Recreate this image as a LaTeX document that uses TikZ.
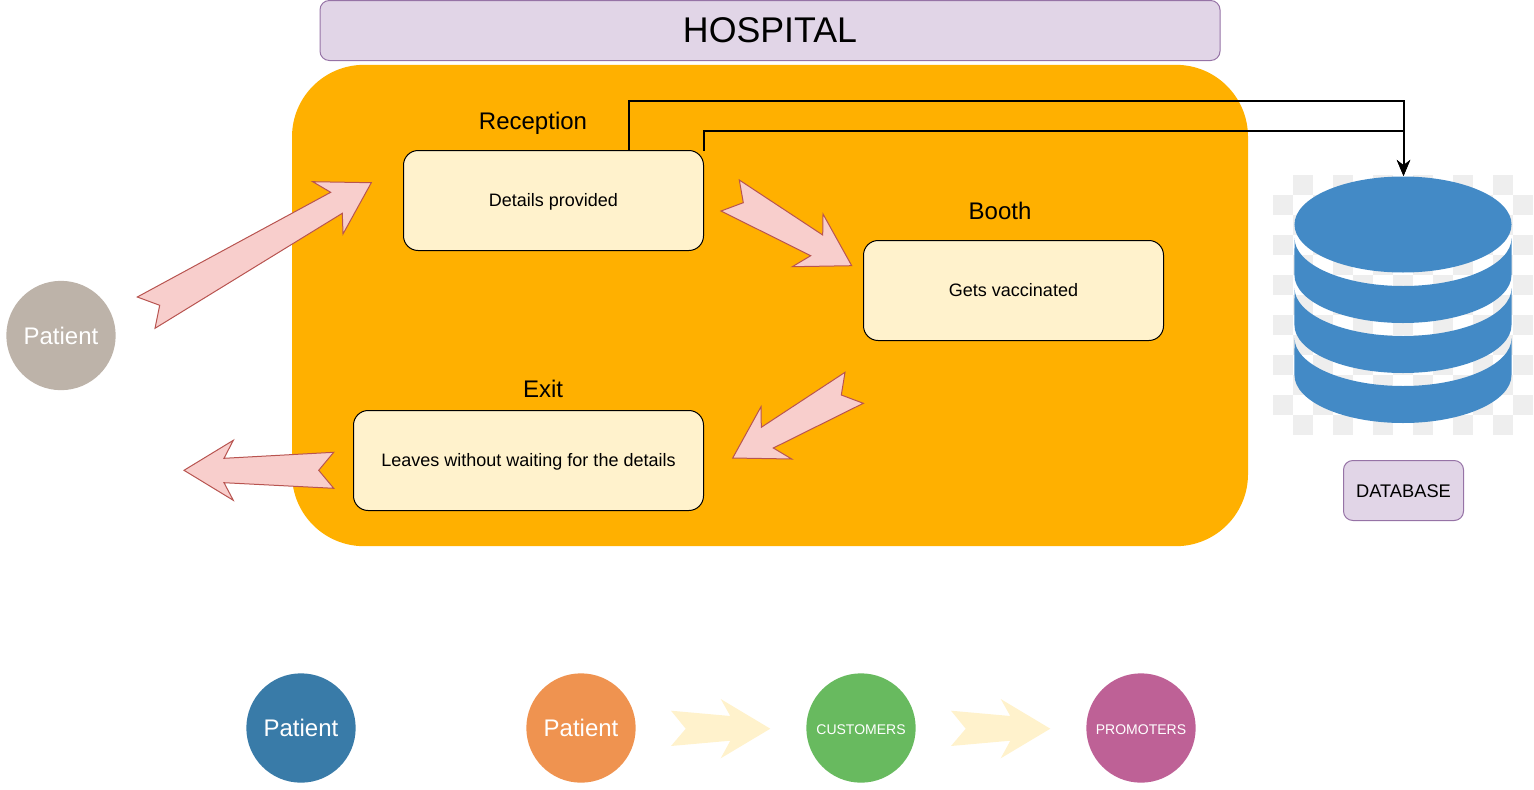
\documentclass[tikz,border=0pt]{standalone}
\usepackage{fontspec}
\setmainfont{Liberation Sans}
\usetikzlibrary{arrows.meta,calc}
\definecolor{hospitalorange}{HTML}{FFB000}
\definecolor{lilacfill}{HTML}{E1D5E7}
\definecolor{lilacline}{HTML}{9673A6}
\definecolor{creamfill}{HTML}{FFF2CC}
\definecolor{pinkfill}{HTML}{F8CECC}
\definecolor{pinkline}{HTML}{B85450}
\definecolor{dbblue}{HTML}{438AC6}
\definecolor{checkgray}{HTML}{EEEEEE}
\definecolor{patientgray}{HTML}{BDB3A9}
\definecolor{patientblue}{HTML}{397BA8}
\definecolor{patientorange}{HTML}{EF9350}
\definecolor{customergreen}{HTML}{68BA5F}
\definecolor{promoterpink}{HTML}{BE6196}

\begin{document}
\begin{tikzpicture}[x=0.75pt, y=-0.75pt, >={Stealth[length=12pt,width=10pt]}]
    \tikzstyle{titlebox} = [draw=lilacline, fill=lilacfill, line width=0.75pt, rounded corners=7pt, inner sep=0pt, outer sep=0pt]
    \tikzstyle{stepbox}  = [draw=black, fill=creamfill, line width=0.75pt, rounded corners=11pt, minimum height=75pt, inner sep=0pt, outer sep=0pt, text height=11pt, text depth=2.5pt, font=\fontsize{13.5}{16}\selectfont]
    \tikzstyle{caption}  = [inner sep=0pt, text height=15pt, text depth=3pt, font=\fontsize{18}{20}\selectfont]
    \tikzstyle{person}   = [circle, minimum size=82pt, inner sep=0pt, text=white, font=\fontsize{18}{20}\selectfont]
    \tikzstyle{role}     = [person, text height=10pt, font=\fontsize{10.5}{13}\selectfont]
    \tikzstyle{bigarrow} = [draw=pinkline, fill=pinkfill, line width=0.75pt, line join=miter]
    \tikzstyle{softarrow} = [fill=creamfill]
    \tikzstyle{link}     = [line width=1.5pt, ->]
    \tikzstyle{dbpart}   = [fill=dbblue]

    \useasboundingbox (0,0) rectangle (1534,789);

    \node [titlebox, minimum width=675pt, minimum height=45pt, font=\fontsize{26.8}{30}\selectfont] (hospital) at (770,30.5) {HOSPITAL};
    \node [fill=hospitalorange, rounded corners=54pt, minimum width=717pt, minimum height=361pt, inner sep=0pt] (ward) at (770,305.5) {};

    \node [stepbox, minimum width=225pt] (details) at (553.5,200.5) {Details provided};
    \node [stepbox, minimum width=225pt] (vaccinated) at (1013.5,290.5) {Gets vaccinated};
    \node [stepbox, minimum width=262.5pt] (leaves) at (528.5,460.5) {Leaves without waiting for the details};

    \node [caption] (reception) at (533,121) {Reception};
    \node [caption] (booth) at (1000,211) {Booth};
    \node [caption] (exit) at (543,389) {Exit};

    \node [person, fill=patientgray] (patient1) at (61,335.5) {Patient};
    \node [person, fill=patientblue] (patient2) at (301,728) {Patient};
    \node [person, fill=patientorange] (patient3) at (581,728) {Patient};
    \node [role, fill=customergreen] (customers) at (861,728) {CUSTOMERS};
    \node [role, fill=promoterpink] (promoters) at (1141,728) {PROMOTERS};

    \node [titlebox, minimum width=90pt, minimum height=45pt, text height=11.3pt, font=\fontsize{13.7}{16}\selectfont] (dblabel) at (1403.5,490.5) {DATABASE};

    % Database picture
    \foreach \row in {0,...,12} {
        \foreach \col in {0,...,12} {
            \pgfmathparse{int(mod(\row+\col,2))}
            \ifnum\pgfmathresult=1
                \fill [checkgray] (1273+20*\col,175+20*\row) rectangle ++(20,20);
            \fi
        }
    }
    \foreach \ytop in {238,288,338} {
        \fill [dbpart] (1294.5,\ytop) arc[start angle=180, end angle=360, x radius=81.4pt, y radius=36pt]
            -- (1511.5,\ytop+37) arc[start angle=0, end angle=-180, x radius=81.4pt, y radius=36pt] -- cycle;
    }
    \fill [dbpart] (1403,224.5) ellipse [x radius=81.4pt, y radius=36pt];
    \coordinate (dbtop) at (1403.5,176);

    % Block arrows
    \draw [bigarrow] (137.3,297) -- (330.7,192.3) -- (312.7,181.7) -- (371.3,182.7) -- (343,234) -- (342.3,213.3) -- (155,328.3) -- (159.7,305.3) -- cycle;
    \draw [bigarrow] (739.3,180) -- (822.7,235) -- (823,214) -- (851.7,265.7) -- (792.3,266.7) -- (810.7,255.7) -- (721,211) -- (743.3,202.7) -- cycle;
    \draw [bigarrow] (845,372.3) -- (761.3,427.3) -- (761,406.7) -- (732.7,458) -- (791.7,459) -- (773.3,448) -- (863.3,403.3) -- (841.3,395) -- cycle;
    \draw [bigarrow] (333.7,452.3) -- (224,458.3) -- (233.3,440.3) -- (184,470.3) -- (233.3,500.3) -- (224,482.7) -- (333.7,488.3) -- (318.7,470.3) -- cycle;
    \foreach \shift in {0,280} {
        \fill [softarrow] (671+\shift,710.7) -- (730.3+\shift,716) -- (720.7+\shift,699) -- (770.3+\shift,728.7) -- (720.7+\shift,758.3) -- (730.3+\shift,740.7) -- (671+\shift,746) -- (685.7+\shift,728.7) -- cycle;
    }

    % Connections
    \draw [link] ($(details.north west)!0.75!(details.north east)$) |- ++(387,-49.5) -| (dbtop);
    \draw [link] (details.north east) |- ++(350,-19.5) -| (dbtop);

\end{tikzpicture}
\end{document}
